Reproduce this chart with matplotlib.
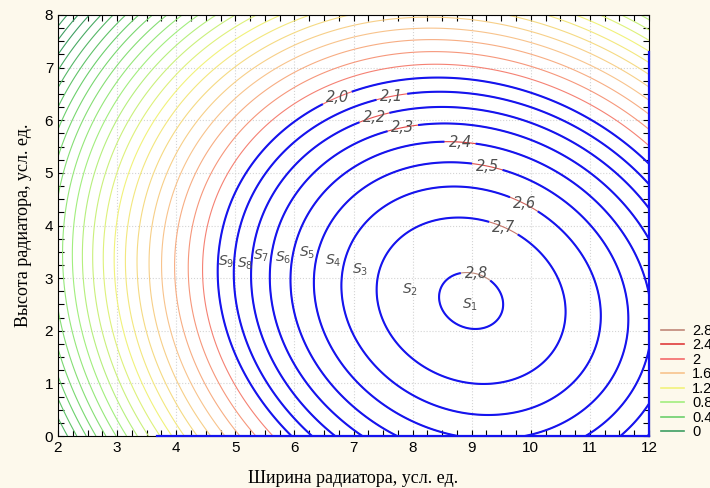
import numpy as np
import matplotlib
matplotlib.use("Agg")
import matplotlib.pyplot as plt
from matplotlib.colors import LinearSegmentedColormap, Normalize
from matplotlib.lines import Line2D
from matplotlib.ticker import MultipleLocator

# fitted response surface (peak, its position and curvatures)
z_peak = 2.813
x_peak = 8.99
y_peak = 2.57
curv_x = 0.045
curv_y = 0.046
curv_xy = 0.006

# thin coloured isolines and their legend
thin_levels = np.round(np.arange(-0.3, 2.85, 0.1), 2)
legend_levels = [2.8, 2.4, 2.0, 1.6, 1.2, 0.8, 0.4, 0.0]
legend_labels = ["2.8", "2.4", "2", "1.6", "1.2", "0.8", "0.4", "0"]
level_colors = ["#c08878", "#e03c3c", "#f46a6a", "#f8c48c",
                "#f2f27a", "#a2ee7e", "#6cd06c", "#3e9e62"]

# bold blue isolines with their labels
blue_levels = [2.0, 2.1, 2.2, 2.3, 2.4, 2.5, 2.6, 2.7, 2.8]
blue_label_pos = [(6.72, 6.44), (7.65, 6.44), (7.36, 6.03), (7.84, 5.82),
                  (8.80, 5.53), (9.26, 5.10), (9.85, 4.33), (9.51, 3.88),
                  (9.06, 3.00)]

# zone labels S1..S9
zone_names = [1, 2, 3, 4, 5, 6, 7, 8, 9]
zone_x = [8.97, 7.96, 7.11, 6.65, 6.21, 5.81, 5.43, 5.16, 4.85]
zone_y = [2.50, 2.78, 3.16, 3.33, 3.48, 3.38, 3.42, 3.27, 3.31]

cream = "#fdf9ec"
blue = "#1414f0"

x = np.linspace(2, 12, 501)
y = np.linspace(0, 8, 401)
X, Y = np.meshgrid(x, y)
dx = X - x_peak
dy = Y - y_peak
Z = z_peak - curv_x * dx**2 - curv_y * dy**2 - 2 * curv_xy * dx * dy

fig = plt.figure(figsize=(7.1, 4.88), dpi=100, facecolor=cream)
ax = fig.add_axes([58 / 710, 52 / 488, 591 / 710, 421 / 488])
ax.set_facecolor("white")

stops = [v / 2.8 for v in legend_levels[::-1]]
cmap = LinearSegmentedColormap.from_list("lev", list(zip(stops, level_colors[::-1])))
ax.contour(X, Y, Z, levels=thin_levels, cmap=cmap, norm=Normalize(0, 2.8),
           linewidths=0.8)

cs = ax.contour(X, Y, Z, levels=blue_levels, colors=blue, linewidths=1.5)
labels = ax.clabel(cs, fmt=lambda v: f"{v:.1f}".replace(".", ","),
                   manual=blue_label_pos, inline=True, inline_spacing=4,
                   fontsize=10.5, colors="#505050")
for t in labels:
    t.set_fontstyle("italic")
    t.set_rotation(0)

for n, zx, zy in zip(zone_names, zone_x, zone_y):
    ax.text(zx, zy, rf"$S_{{{n}}}$", fontsize=10, color="#505050",
            ha="center", va="center")

ax.set_xlim(2, 12)
ax.set_ylim(0, 8)
ax.set_xticks(range(2, 13))
ax.set_yticks(range(0, 9))
ax.xaxis.set_minor_locator(MultipleLocator(0.25))
ax.yaxis.set_minor_locator(MultipleLocator(0.25))
ax.tick_params(which="both", direction="in", top=True, right=True,
               length=4, width=0.8, labelsize=11)
for lab in ax.get_xticklabels() + ax.get_yticklabels():
    lab.set_family("Liberation Sans")
ax.grid(True, which="major", color="#d4d4d4", linestyle=":", linewidth=0.8)
ax.set_axisbelow(True)

# blue frame pieces left by the overlay
ax.axhline(0, xmin=0.168, xmax=1, color=blue, lw=1.6, clip_on=False, zorder=4)
ax.axvline(12, ymin=0, ymax=0.912, color=blue, lw=1.6, clip_on=False, zorder=4)

ax.set_xlabel("Ширина радиатора, усл. ед.", family="Liberation Serif",
              fontsize=13, labelpad=11)
ax.set_ylabel("Высота радиатора, усл. ед.", family="Liberation Serif",
              fontsize=13, labelpad=9)

handles = [Line2D([], [], color=c, lw=1.2) for c in level_colors]
fig.legend(handles, legend_labels, loc="upper left",
           bbox_to_anchor=(661 / 710, 1 - 324 / 488), frameon=False,
           handlelength=1.55, handletextpad=0.6, labelspacing=0.03,
           borderpad=0, borderaxespad=0,
           prop={"family": "Liberation Sans", "size": 10.5})

fig.savefig("out.png", dpi=100, facecolor=cream)
